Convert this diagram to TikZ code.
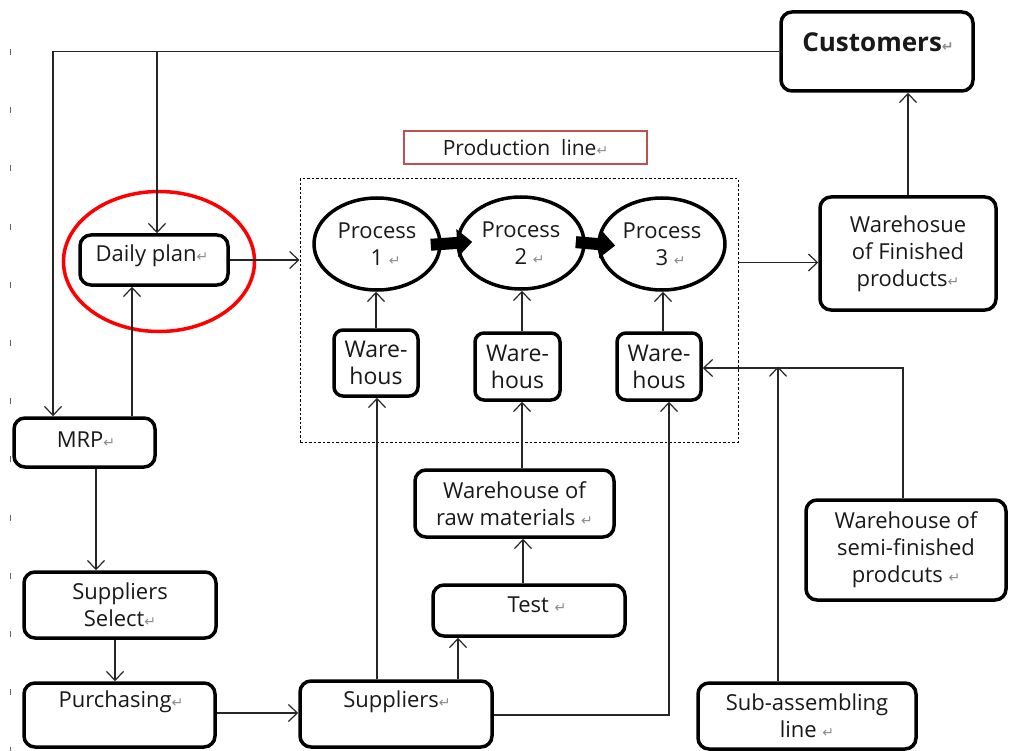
\documentclass[tikz,border=0pt]{standalone}
\usepackage{fontspec}
\setmainfont{Open Sans}
\newfontfamily\symfont{DejaVu Sans}
\usetikzlibrary{arrows.meta,shapes.geometric,calc}
\newcommand\retmark{{\symfont\fontsize{14}{14}\selectfont\textcolor{black!45}{↵}}}
\begin{document}
\begin{tikzpicture}[x=1pt,y=-1pt,
  box/.style={draw=black, line width=3.5pt, rounded corners=11pt, fill=white, align=center, inner sep=0pt, text=black!90, font=\fontsize{22}{27}\selectfont},
  proc/.style={draw=black, line width=3.5pt, ellipse, inner sep=0pt, align=center, text=black!90, font=\fontsize{22}{27}\selectfont, minimum width=126pt, minimum height=92pt},
  txt/.style={inner sep=0pt, align=center, text=black!90, font=\fontsize{22}{27}\selectfont},
  conn/.style={draw=black!85, line width=1.2pt, -{Straight Barb[length=9pt, width=17pt, line width=1.2pt]}},
  bigarrow/.style={draw=black, line width=12pt, -{Triangle[length=15pt, width=27pt]}},
  tick/.style={draw=black!60, line width=1pt}
]
\useasboundingbox (0,0) rectangle (1011,751);

% margin ticks
\foreach \k in {0,...,12} \draw[tick] (10,{49+58.2*\k}) -- (10,{55+58.2*\k});

% production line frame
\node[draw=black, dashed, dash pattern=on 2.5pt off 2pt, line width=1pt, minimum width=438pt, minimum height=263pt, inner sep=0pt] (pl) at (519,310.5) {};
\node[draw={rgb,255:red,192;green,80;blue,77}, line width=2pt, minimum width=243pt, minimum height=33pt, inner sep=0pt, text=black!90, font=\fontsize{21}{24}\selectfont] (plt) at (525.5,147.5) {Production\ \ line\retmark};

% boxes
\node[box, minimum width=192pt, minimum height=79pt] (cust) at (877,51.5) {};
\node[txt, font=\bfseries\fontsize{26}{30}\selectfont] (custT) at (878,42) {Customers\retmark};
\node[box, minimum width=176pt, minimum height=113pt] (wf) at (908,253.5) {Warehosue\\of Finished\\ products\retmark};
\node[box, minimum width=148pt, minimum height=50pt] (daily) at (154,260) {};
\node[txt] (dailyT) at (152,256) {Daily plan\retmark};
\node[box, minimum width=141pt, minimum height=49pt] (mrp) at (84.5,442.5) {};
\node[txt] (mrpT) at (86,440) {MRP\retmark};
\node[box, minimum width=192pt, minimum height=66pt] (ss) at (120,605) {Suppliers\\ Select\retmark};
\node[box, minimum width=191pt, minimum height=64pt] (purch) at (119.5,715) {};
\node[txt] (purchT) at (121,702) {Purchasing\retmark};
\node[box, minimum width=192pt, minimum height=66pt] (supp) at (396,714) {};
\node[txt] (suppT) at (397,702) {Suppliers\retmark};
\node[box, minimum width=218pt, minimum height=66pt] (sub) at (807,716) {Sub-assembling\\ line \retmark};
\node[box, minimum width=199pt, minimum height=67pt] (wrm) at (514.5,503.5) {Warehouse of\\raw materials \retmark};
\node[box, minimum width=192pt, minimum height=51pt] (test) at (529,610.5) {};
\node[txt] (testT) at (537,605) {Test \retmark};
\node[box, minimum width=200pt, minimum height=100pt] (wsf) at (906,550) {Warehouse of\\semi-finished\\ prodcuts \retmark};
\node[box, minimum width=84pt, minimum height=66pt, rounded corners=9pt, font=\fontsize{23}{27}\selectfont] (w1) at (376,363) {Ware-\\hous};
\node[box, minimum width=85pt, minimum height=67pt, rounded corners=9pt, font=\fontsize{23}{27}\selectfont] (w2) at (517.5,366.5) {Ware-\\hous};
\node[box, minimum width=84pt, minimum height=67pt, rounded corners=9pt, font=\fontsize{23}{27}\selectfont] (w3) at (659,366.5) {Ware-\\hous};

% processes
\node[proc] (p1) at (377,244) {Process\\ \ \ \ 1 \retmark};
\node[proc] (p2) at (521,243) {Process\\ \ \ \ 2 \retmark};
\node[proc] (p3) at (662,244) {Process\\ \ \ \ 3 \retmark};

% red ellipse around daily plan
\node[draw=red, line width=3.5pt, ellipse, minimum width=191pt, minimum height=140pt, inner sep=0pt] (focus) at (159,261.5) {};

% process flow
\draw[bigarrow, shorten <=-11pt, shorten >=-16pt] (p1.east) -- (p2.west);
\draw[bigarrow, shorten <=-10pt, shorten >=-18pt] (p2.east) -- (p3.west);

% connectors
\draw[conn] (wf.north) -- (wf.north |- cust.south);
\draw[conn] (cust.west) -| ([xshift=-31.5pt]mrp.north);
\coordinate (dailyin) at ([xshift=3pt]daily.north);
\draw[conn] (dailyin |- cust.west) -- (dailyin);
\coordinate (mrpup) at ([xshift=47.5pt]mrp.north);
\draw[conn] (mrpup) -- (mrpup |- daily.south);
\draw[conn] (daily.east) -- (daily.east -| pl.west);
\coordinate (wfin) at ([yshift=-9pt]wf.west);
\draw[conn] (pl.east |- wfin) -- (wfin);
\coordinate (mrpdn) at ([xshift=11.5pt]mrp.south);
\draw[conn] (mrpdn) -- (mrpdn |- ss.north);
\coordinate (ssdn) at ([xshift=-5pt]ss.south);
\draw[conn] (ssdn) -- (ssdn |- purch.north);
\coordinate (purout) at ([yshift=2pt]purch.east);
\draw[conn] (purout) -- (purout -| supp.west);
\coordinate (supw1) at ([xshift=-19pt]supp.north);
\draw[conn] (supw1) -- (supw1 |- w1.south);
\coordinate (suptest) at ([xshift=62pt]supp.north);
\draw[conn] (suptest) -- (suptest |- test.south);
\coordinate (testup) at ([xshift=-6pt]test.north);
\draw[conn] (testup) -- (testup |- wrm.south);
\coordinate (wrmup) at ([xshift=7.5pt]wrm.north);
\draw[conn] (wrmup) -- (wrmup |- w2.south);
\draw[conn] ([yshift=-1pt]supp.east) -| ([xshift=10pt]w3.south);
\draw[conn] ([xshift=-3pt]wsf.north) |- ([yshift=-1.5pt]w3.east);
\coordinate (subup) at ([xshift=-29pt]sub.north);
\draw[conn] (subup) -- (subup |- w3.east);
\draw[conn] (w1.north) -- (w1.north |- p1.south);
\coordinate (w2up) at ([xshift=4.5pt]w2.north);
\draw[conn] (w2up) -- (w2up |- p2.south);
\coordinate (w3up) at ([xshift=4pt]w3.north);
\draw[conn] (w3up) -- (w3up |- p3.south);
\end{tikzpicture}
\end{document}
